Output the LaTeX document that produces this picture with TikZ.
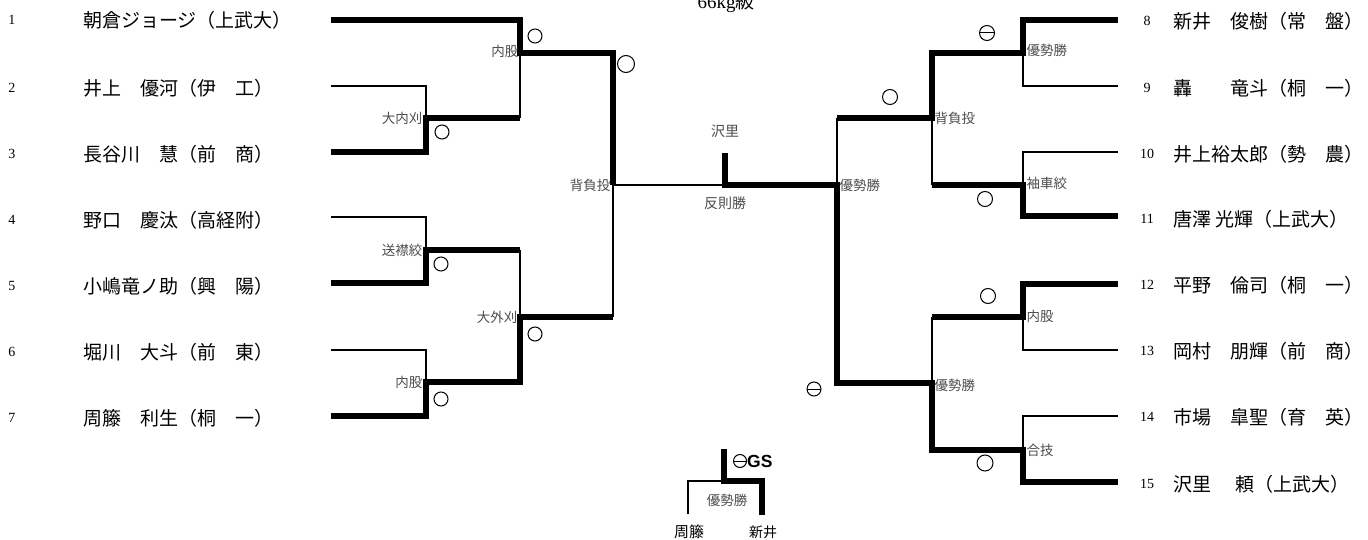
\documentclass[tikz,border=0pt]{standalone}
\usepackage{fontspec}
\setmainfont{Liberation Serif}
\newfontfamily\jp{Noto Sans CJK JP}
\newfontfamily\gsfont{Liberation Sans}
\begin{document}
\begin{tikzpicture}[x=1pt,y=-1pt,
  wline/.style={line width=6pt, line join=miter},
  lline/.style={line width=1.2pt},
  num/.style={font=\fontsize{14}{14}\selectfont, inner sep=0},
  pname/.style={font=\jp\fontsize{19}{19}\selectfont, anchor=west, inner sep=0},
  waza/.style={font=\jp\fontsize{13.5}{13.5}\selectfont, text=black!70, inner sep=1.5pt},
  res/.style={circle, draw, line width=1pt, inner sep=0, minimum size=14pt},
  lose/.style={res, path picture={\draw[line width=1pt] (path picture bounding box.west) -- (path picture bounding box.east);}},
]
\useasboundingbox (0,0) rectangle (1368,540);

% title
\node[anchor=base, font=\fontsize{19}{19}\selectfont, inner sep=0] (title) at (726,9) {66kg{\jp 級}};

% left players
\node[num] (n1) at (12,20) {1}; \node[pname] (t1) at (83,20) {朝倉ジョージ（上武大）};
\node[num] (n2) at (12,88) {2}; \node[pname] (t2) at (83,88) {井上　優河（伊　工）};
\node[num] (n3) at (12,154) {3}; \node[pname] (t3) at (83,154) {長谷川　慧（前　商）};
\node[num] (n4) at (12,220) {4}; \node[pname] (t4) at (83,220) {野口　慶汰（高経附）};
\node[num] (n5) at (12,286) {5}; \node[pname] (t5) at (83,286) {小嶋竜ノ助（興　陽）};
\node[num] (n6) at (12,352) {6}; \node[pname] (t6) at (83,352) {堀川　大斗（前　東）};
\node[num] (n7) at (12,418) {7}; \node[pname] (t7) at (83,418) {周籐　利生（桐　一）};

% right players
\node[num] (n8) at (1147,21) {8}; \node[pname] (t8) at (1173,21) {新井　俊樹（常　盤）};
\node[num] (n9) at (1147,88) {9}; \node[pname] (t9) at (1173,88) {轟　　竜斗（桐　一）};
\node[num] (n10) at (1147,154) {10}; \node[pname] (t10) at (1173,154) {井上裕太郎（勢　農）};
\node[num] (n11) at (1147,219) {11}; \node[pname] (t11) at (1173,219) {唐澤 光輝（上武大）};
\node[num] (n12) at (1147,285) {12}; \node[pname] (t12) at (1173,285) {平野　倫司（桐　一）};
\node[num] (n13) at (1147,351) {13}; \node[pname] (t13) at (1173,351) {岡村　朋輝（前　商）};
\node[num] (n14) at (1147,417) {14}; \node[pname] (t14) at (1173,417) {市場　皐聖（育　英）};
\node[num] (n15) at (1147,484) {15}; \node[pname] (t15) at (1173,484) {沢里　\hspace{5pt}頼（上武大）};

% bracket coordinates
\coordinate (P1) at (331,20);  \coordinate (P2) at (331,86);
\coordinate (P3) at (331,152); \coordinate (P4) at (331,217);
\coordinate (P5) at (331,283); \coordinate (P6) at (331,350);
\coordinate (P7) at (331,416);
\coordinate (J23) at (426,118); \coordinate (J45) at (426,250); \coordinate (J67) at (426,382);
\coordinate (K1) at (520,53); \coordinate (K4) at (520,317);
\coordinate (SL) at (613,185);
\coordinate (F) at (725,185); \coordinate (Ftop) at (725,153);
\coordinate (SR) at (837,185);
\coordinate (K8) at (932,118); \coordinate (K12) at (932,383);
\coordinate (J89) at (1023,53); \coordinate (J1011) at (1023,185);
\coordinate (J1213) at (1023,317); \coordinate (J1415) at (1023,450);
\coordinate (P8) at (1118,20);  \coordinate (P9) at (1118,86);
\coordinate (P10) at (1118,152); \coordinate (P11) at (1118,216);
\coordinate (P12) at (1118,284); \coordinate (P13) at (1118,350);
\coordinate (P14) at (1118,416); \coordinate (P15) at (1118,482);

% left bracket
\draw[lline] (P2) -| (J23);
\draw[lline] (J23 -| K1) -- (K1);
\draw[lline] (P4) -| (J45);
\draw[lline] (J45 -| K4) -- (K4);
\draw[lline] (P6) -| (J67);
\draw[lline] (K4 -| SL) -- (SL);
\draw[lline] (SL) -- (F);
\draw[wline] (P1) -| (K1) -| (SL);
\draw[wline] (P3) -| (J23) -- (J23 -| K1);
\draw[wline] (P5) -| (J45) -- (J45 -| K4);
\draw[wline] (P7) -| (J67) -| (K4) -- (K4 -| SL);

% right bracket
\draw[lline] (P9) -| (J89);
\draw[lline] (K8 -| SR) -- (SR);
\draw[lline] (P10) -| (J1011);
\draw[lline] (J1011 -| K8) -- (K8);
\draw[lline] (P13) -| (J1213);
\draw[lline] (J1213 -| K12) -- (K12);
\draw[lline] (P14) -| (J1415);
\draw[wline] (P8) -| (J89) -| (K8) -- (K8 -| SR);
\draw[wline] (P11) -| (J1011) -- (J1011 -| K8);
\draw[wline] (P12) -| (J1213) -- (J1213 -| K12);
\draw[wline] (Ftop) -- (F) -- (SR) |- (K12) |- (J1415) |- (P15);

% technique labels
\node[waza, anchor=east] (w1) at ([yshift=2pt]K1) {内股};
\node[waza, anchor=east] (w23) at ([xshift=-2pt]J23) {大内刈};
\node[waza, anchor=east] (w45) at ([xshift=-2pt]J45) {送襟絞};
\node[waza, anchor=east] (w4) at ([xshift=-1pt]K4) {大外刈};
\node[waza, anchor=east] (w67) at ([xshift=-2pt]J67) {内股};
\node[waza, anchor=east] (wsl) at ([xshift=-1pt]SL) {背負投};
\node[waza, anchor=west] (w89) at ([xshift=2pt,yshift=3pt]J89) {優勢勝};
\node[waza, anchor=west] (w1011) at ([xshift=2pt,yshift=2pt]J1011) {袖車絞};
\node[waza, anchor=west] (w8) at ([xshift=1pt]K8) {背負投};
\node[waza, anchor=west] (wsr) at ([xshift=1pt]SR) {優勢勝};
\node[waza, anchor=west] (w1213) at ([xshift=2pt,yshift=1pt]J1213) {内股};
\node[waza, anchor=west] (w12) at ([xshift=1pt,yshift=-2pt]K12) {優勢勝};
\node[waza, anchor=west] (w1415) at ([xshift=2pt]J1415) {合技};
\node[waza, font=\jp\fontsize{14}{14}\selectfont] (champ) at (725,131) {沢里};
\node[waza, font=\jp\fontsize{14}{14}\selectfont] (wf) at (725,203) {反則勝};

% result marks
\node[res] (r1) at (535,36) {};
\node[res, minimum size=17pt] (r2) at (626,64) {};
\node[res] (r3) at (442,132) {};
\node[res] (r4) at (441,264) {};
\node[res] (r5) at (535,334) {};
\node[res] (r6) at (441,399) {};
\node[lose, minimum size=15pt] (r7) at (987,33) {};
\node[res, minimum size=15pt] (r8) at (890,97) {};
\node[res, minimum size=15pt] (r9) at (985,199) {};
\node[res, minimum size=15pt] (r10) at (988,296) {};
\node[res, minimum size=16pt] (r11) at (985,463) {};
\node[lose] (r12) at (814,389) {};

% golden score bout
\coordinate (BT) at (724,449);
\coordinate (BM) at (724,481);
\coordinate (BR) at (762,515);
\coordinate (BL) at (688,514);
\draw[lline] (BM) -| (BL);
\draw[wline] (BT) -- (BM) -| (BR);
\node[lose, minimum size=13pt] (gsm) at (740,461) {};
\node[anchor=west, inner sep=0, font=\gsfont\bfseries\fontsize{17.5}{17.5}\selectfont] (gs) at (747,461) {GS};
\node[waza, font=\jp\fontsize{13.5}{13.5}\selectfont] (gw) at (727,500) {優勢勝};
\node[font=\jp\fontsize{15}{15}\selectfont, inner sep=0] (bl) at (689,532) {周籐};
\node[font=\jp\fontsize{14}{14}\selectfont, inner sep=0] (br) at (763,532) {新井};
\end{tikzpicture}
\end{document}
